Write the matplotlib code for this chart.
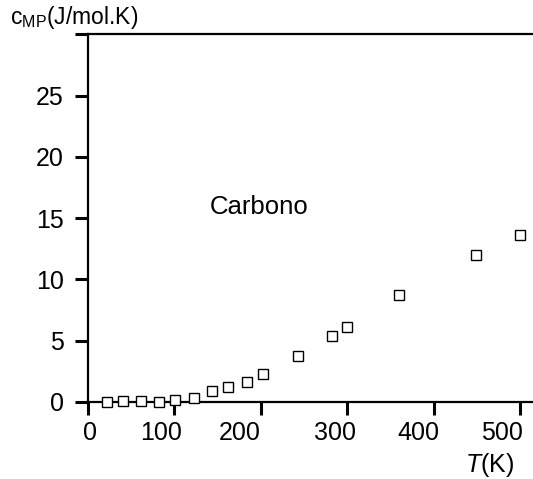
import matplotlib.pyplot as plt

plt.rcParams["font.family"] = ["Liberation Sans", "DejaVu Sans"]
plt.rcParams["mathtext.fontset"] = "custom"
plt.rcParams["mathtext.rm"] = "Liberation Sans"
plt.rcParams["mathtext.it"] = "Liberation Sans:italic"

# Carbono heat capacity data
temps = [22, 41, 61, 82, 101, 123, 143, 162, 184, 203, 243, 282, 300, 360, 449, 500]
cmp_vals = [-0.03, 0.08, 0.1, 0.02, 0.2, 0.35, 0.9, 1.23, 1.66, 2.32, 3.77, 5.38, 6.15, 8.74, 12.0, 13.6]

xticks = [0, 100, 200, 300, 400, 500]
xtick_labels = ["0", "100", "200", "300", "400", "500"]
# the original labels sit a bit left of their ticks
xlabel_pos = [2, 84, 175, 286, 382, 479]
yticks = [0, 5, 10, 15, 20, 25, 30]
ytick_labels = ["0", "5", "10", "15", "20", "25", ""]


def main():
    fig = plt.figure(figsize=(5.33, 4.79), dpi=100)
    ax = fig.add_axes([0.1651, 0.1608, 0.8349, 0.7672])

    ax.plot(temps, cmp_vals, linestyle="none", marker="s", markersize=7.5,
            markerfacecolor="white", markeredgecolor="black", markeredgewidth=1.0,
            clip_on=False, zorder=3)

    ax.set_xlim(0, 515)
    ax.set_ylim(0, 30)

    # ticks without labels, labels on zero-length minor ticks
    ax.set_xticks(xticks)
    ax.set_xticklabels([""] * len(xticks))
    ax.set_xticks(xlabel_pos, minor=True)
    ax.set_xticklabels(xtick_labels, minor=True)
    ax.set_yticks(yticks)
    ax.set_yticklabels(ytick_labels)

    ax.spines["right"].set_visible(False)
    for side in ["left", "bottom", "top"]:
        ax.spines[side].set_linewidth(1.6)
    ax.tick_params(axis="both", which="major", direction="out", length=9.4, width=2.2, labelsize=18)
    ax.tick_params(axis="y", pad=8)
    ax.tick_params(axis="x", which="minor", length=0, labelsize=18, pad=4 + 9.4)

    ax.text(141, 15.9, "Carbono", fontsize=18.5, ha="left", va="center")

    fig.text(0.872, 0.0, r"$\mathit{T}$(K)", fontsize=18, ha="left", va="bottom")
    fig.text(0.018, 0.935, r"c$_{\mathrm{MP}}$(J/mol.K)", fontsize=16.5, ha="left", va="bottom")

    fig.savefig("out.png", dpi=100)


if __name__ == "__main__":
    main()
